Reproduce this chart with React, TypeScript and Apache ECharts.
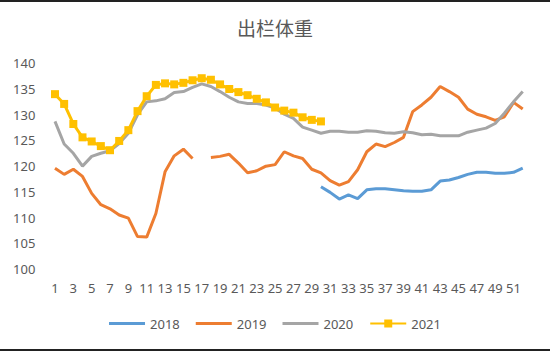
import React, { useEffect, useRef } from "react";
import * as echarts from "echarts";

const weeks: string[] = Array.from({ length: 52 }, (_, i) => String(i + 1));

const s2018: (number | null)[] = [
  null, null, null, null, null, null, null, null, null, null,
  null, null, null, null, null, null, null, null, null, null,
  null, null, null, null, null, null, null, null, null,
  116.0, 114.9, 113.6, 114.4, 113.7, 115.4, 115.6, 115.6, 115.4, 115.2,
  115.1, 115.1, 115.4, 117.1, 117.3, 117.8, 118.4, 118.8, 118.8, 118.6,
  118.6, 118.8, 119.6,
];

const s2019: (number | null)[] = [
  119.6, 118.4, 119.4, 118.0, 114.7, 112.5, 111.7, 110.5, 109.9, 106.3,
  106.2, 110.8, 118.9, 122.0, 123.3, 121.5, null, 121.7, 121.9, 122.3,
  120.6, 118.7, 119.1, 120.0, 120.3, 122.8, 122.0, 121.5, 119.4, 118.7,
  117.2, 116.3, 117.0, 119.3, 122.8, 124.3, 123.8, 124.6, 125.6, 130.6,
  131.9, 133.4, 135.5, 134.5, 133.4, 131.1, 130.1, 129.6, 128.9, 129.6,
  132.4, 131.1,
];

const s2020: (number | null)[] = [
  128.7, 124.3, 122.5, 120.0, 121.9, 122.5, 123.0, 124.4, 126.4, 130.0,
  132.5, 132.7, 133.1, 134.3, 134.5, 135.3, 136.0, 135.5, 134.5, 133.4,
  132.5, 132.2, 132.2, 131.9, 131.3, 130.1, 129.3, 127.6, 127.0, 126.4,
  126.8, 126.8, 126.6, 126.6, 126.9, 126.8, 126.5, 126.4, 126.7, 126.5,
  126.1, 126.2, 125.9, 125.9, 125.9, 126.6, 127.0, 127.4, 128.3, 130.3,
  132.5, 134.5,
];

const s2021: (number | null)[] = [
  134.0, 132.1, 128.2, 125.6, 124.8, 123.9, 123.1, 124.9, 127.0, 130.7,
  133.6, 135.8, 136.1, 135.9, 136.2, 136.7, 137.1, 136.8, 135.9, 135.0,
  134.4, 133.8, 133.1, 132.4, 131.4, 130.8, 130.4, 129.5, 129.0, 128.7,
];

const seriesNames = ["2018", "2019", "2020", "2021"];
const seriesColors = ["#5B9BD5", "#ED7D31", "#A5A5A5", "#FFC000"];
const titleText = "出栏体重";

const FONT = "'Noto Sans', 'Noto Sans CJK SC', sans-serif";
const TEXT_COLOR = "#595959";
const LINE_ICON = "path://M0,0 L36,0 L36,3 L0,3 Z";

export default function App() {
  const ref = useRef<HTMLDivElement>(null);
  useEffect(() => {
    if (!ref.current) return;
    const chart = echarts.init(ref.current, undefined, { renderer: "svg" });
    const datas = [s2018, s2019, s2020, s2021];
    chart.setOption({
      animation: false,
      backgroundColor: "#ffffff",
      textStyle: { fontFamily: FONT },
      title: {
        text: titleText,
        left: "center",
        top: 13,
        textStyle: {
          fontFamily: "'Noto Sans CJK SC', sans-serif",
          fontSize: 19,
          fontWeight: "normal",
          color: TEXT_COLOR,
        },
      },
      legend: {
        bottom: 16,
        left: "center",
        itemWidth: 36,
        itemHeight: 10,
        itemGap: 16,
        symbolKeepAspect: true,
        textStyle: { fontFamily: FONT, fontSize: 13, color: TEXT_COLOR },
        data: seriesNames.map((name) =>
          name === "2021" ? { name } : { name, icon: LINE_ICON }
        ),
      },
      grid: {
        left: 50.4,
        width: 476.9,
        top: 63.3,
        height: 205.7,
        containLabel: false,
      },
      xAxis: {
        type: "category",
        data: weeks,
        boundaryGap: true,
        axisLine: { show: false },
        axisTick: { show: false },
        axisLabel: {
          interval: 1,
          margin: 12,
          fontFamily: FONT,
          fontSize: 13,
          color: TEXT_COLOR,
        },
      },
      yAxis: {
        type: "value",
        min: 100,
        max: 140,
        interval: 5,
        axisLine: { show: false },
        axisTick: { show: false },
        splitLine: { show: false },
        axisLabel: {
          margin: 15,
          fontFamily: FONT,
          fontSize: 13,
          color: TEXT_COLOR,
        },
      },
      series: seriesNames.map((name, i) => ({
        name,
        type: "line",
        data: datas[i],
        color: seriesColors[i],
        connectNulls: false,
        symbol: name === "2021" ? "rect" : "none",
        symbolSize: 8,
        showSymbol: name === "2021",
        showAllSymbol: true,
        lineStyle: { width: 3, color: seriesColors[i] },
        itemStyle: { color: seriesColors[i] },
        z: name === "2021" ? 5 : 2,
      })),
      graphic: [
        {
          type: "rect",
          shape: { x: 0, y: 0, width: 550, height: 2 },
          style: { fill: "#222222" },
        },
        {
          type: "rect",
          shape: { x: 0, y: 349, width: 550, height: 2 },
          style: { fill: "#222222" },
        },
      ],
    });
    return () => chart.dispose();
  }, []);
  return (
    <div
      ref={ref}
      style={{ position: "fixed", left: 0, top: 0, width: 550, height: 351 }}
    />
  );
}
